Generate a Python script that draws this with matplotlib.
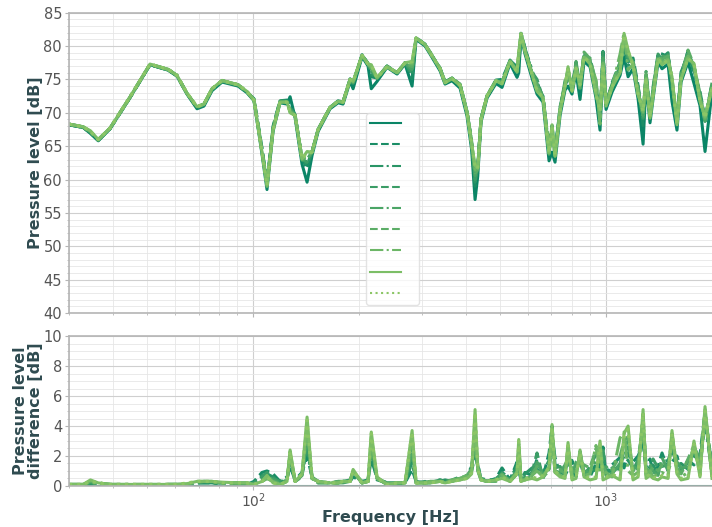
import numpy as np
import matplotlib
matplotlib.use("Agg")
from matplotlib import pyplot as plt
from matplotlib.ticker import MultipleLocator, LogLocator, NullFormatter

# frequency grid [Hz] and reference pressure level [dB] (first configuration)
freq = [30.0, 32.9, 34.5, 36.3, 39.2, 44.7, 50.9, 57.3, 60.7, 64.8,
        69.2, 72.4, 76.3, 81.5, 90.5, 95.9, 100.4, 105.8, 109.3, 113.7,
        119.0, 124.6, 127.1, 131.3, 137.4, 142.0, 146.7, 152.6, 165.0, 173.9,
        179.6, 188.1, 191.8, 203.4, 211.5, 216.0, 224.3, 239.4, 255.6, 269.3,
        282.0, 289.4, 306.9, 317.1, 338.4, 349.7, 366.0, 385.7, 403.7, 416.0,
        425.5, 433.0, 442.3, 460.0, 487.9, 507.4, 534.6, 559.7, 566.0, 574.4,
        589.7, 617.2, 637.7, 663.3, 689.8, 703.5, 717.4, 741.3, 765.6, 780.9,
        801.5, 822.8, 844.6, 866.9, 901.5, 937.6, 962.4, 981.3, 1001, 1041,
        1097, 1126, 1156, 1194, 1234, 1275, 1300, 1334, 1361, 1406,
        1443, 1501, 1540, 1591, 1634, 1710, 1778, 1849, 1911, 2000]

level_ref = [68.2, 67.8, 66.9, 65.8, 67.6, 72.3, 77.2, 76.4, 75.5, 72.8,
             70.6, 71.0, 73.3, 74.6, 74.0, 73.0, 71.8, 63.8, 58.5, 67.2,
             71.5, 71.3, 72.4, 69.3, 62.3, 59.6, 63.6, 67.2, 70.6, 71.5,
             71.3, 74.7, 73.6, 78.4, 77.0, 73.6, 74.7, 76.8, 75.8, 77.3,
             74.0, 81.0, 80.0, 78.8, 76.3, 74.3, 74.8, 73.7, 69.5, 64.5,
             57.0, 60.5, 68.6, 72.2, 74.4, 73.8, 77.4, 75.3, 76.0, 81.5,
             78.8, 75.2, 72.8, 71.6, 62.8, 64.1, 62.6, 69.6, 73.4, 74.0,
             72.8, 76.1, 72.0, 77.7, 76.9, 72.2, 67.4, 76.6, 70.5, 73.1,
             75.6, 78.4, 75.4, 76.6, 72.1, 65.3, 74.6, 68.5, 72.1, 77.6,
             76.6, 77.3, 71.7, 67.4, 74.6, 77.6, 74.4, 71.1, 64.2, 73.1]

# level difference of each further configuration to the reference [dB]
diff_1 = [0.0, 0.0, 0.1, 0.1, 0.0, 0.0, 0.0, 0.0, 0.0, 0.1, 0.2, 0.2, 0.2, 0.2, 0.1, 0.1, 0.3,
          0.9, 1.0, 0.8, 0.3, 0.6, -1.3, 0.4, 0.9, 2.0, 0.6, 0.3, 0.2, 0.2, 0.3, 0.3, 0.6,
          0.3, 0.4, 1.8, 0.5, 0.2, 0.1, 0.2, 1.1, 0.3, 0.2, 0.2, 0.4, 0.3, 0.4, 0.5, 0.6, 1.0,
          2.0, 1.5, 0.4, 0.3, 0.5, 1.2, 0.4, 1.6, 1.0, 0.4, 0.9, 0.7, 1.8, 0.6, 2.2, 4.0, 1.4,
          1.0, 0.7, 1.1, 1.7, 0.6, 2.3, 0.8, 0.6, 1.5, 1.2, 2.6, 0.7, 1.4, 1.9, 1.2, 2.2, 1.6,
          2.0, 2.8, 1.3, 1.8, 0.9, 1.3, 2.2, 1.1, 1.6, 2.0, 1.0, 1.7, 1.4, 2.1, 4.9, 1.2]
diff_2 = [0.0, 0.0, 0.1, 0.1, 0.0, 0.0, 0.0, 0.0, 0.1, 0.1, 0.2, 0.2, 0.2, 0.1, 0.1, 0.1, 0.2,
          0.7, 0.8, 0.6, 0.2, 0.5, -1.6, 0.3, 0.7, 2.6, 0.5, 0.3, 0.2, 0.3, 0.3, 0.4, 0.8,
          0.2, 0.3, 2.2, 0.4, 0.2, 0.2, 0.2, 1.6, 0.3, 0.2, 0.3, 0.3, 0.4, 0.3, 0.5, 0.7, 1.3,
          2.6, 1.2, 0.5, 0.4, 0.4, 0.9, 0.5, 1.3, 1.6, 0.5, 0.8, 1.2, 1.1, 0.9, 1.7, 3.3, 1.9,
          0.8, 1.1, 1.6, 1.2, 0.9, 1.8, 1.3, 0.9, 1.1, 1.9, 2.0, 1.1, 0.9, 1.4, 2.0, 1.7, 1.2,
          1.5, 3.6, 0.8, 1.3, 1.4, 0.8, 1.6, 1.7, 2.4, 1.4, 1.5, 1.1, 2.0, 1.6, 4.2, 0.9]
diff_3 = [0.1, 0.0, 0.2, 0.1, 0.1, 0.0, 0.0, 0.1, 0.1, 0.1, 0.2, 0.3, 0.2, 0.2, 0.2, 0.1, 0.2,
          0.6, 0.9, 0.5, 0.3, 0.4, -1.8, 0.4, 0.8, 3.0, 0.5, 0.2, 0.2, 0.2, 0.3, 0.4, 0.9,
          0.3, 0.3, 2.6, 0.5, 0.1, 0.2, 0.2, 2.0, 0.2, 0.3, 0.2, 0.4, 0.3, 0.4, 0.6, 0.6, 1.2,
          3.0, 1.4, 0.4, 0.3, 0.5, 0.8, 0.3, 1.1, 2.0, 0.4, 0.6, 0.9, 2.2, 0.5, 1.4, 3.6, 1.2,
          1.3, 0.8, 2.1, 0.9, 1.2, 1.6, 0.7, 1.3, 2.1, 1.6, 2.5, 0.8, 1.2, 1.1, 2.4, 2.6, 0.9,
          1.8, 3.9, 1.1, 1.0, 1.8, 1.2, 1.3, 1.4, 2.8, 1.1, 0.9, 1.6, 2.3, 1.2, 4.5, 1.0]
diff_4 = [0.1, 0.1, 0.2, 0.1, 0.1, 0.1, 0.0, 0.1, 0.1, 0.1, 0.2, 0.3, 0.3, 0.2, 0.2, 0.2, 0.1,
          0.4, 0.6, 0.4, 0.2, 0.4, -2.0, 0.3, 0.6, 3.4, 0.6, 0.3, 0.2, 0.2, 0.2, 0.3, 0.9,
          0.2, 0.3, 2.9, 0.5, 0.2, 0.2, 0.2, 2.5, 0.2, 0.2, 0.3, 0.3, 0.3, 0.4, 0.4, 0.6, 0.9,
          3.6, 1.1, 0.5, 0.3, 0.4, 0.7, 0.4, 1.0, 2.4, 0.3, 0.5, 0.6, 1.6, 0.8, 1.1, 3.4, 1.0,
          0.9, 1.4, 1.8, 0.7, 1.6, 2.0, 1.0, 0.9, 1.7, 2.4, 1.6, 1.3, 0.8, 1.5, 2.7, 3.0, 1.3,
          1.1, 4.2, 1.6, 1.4, 1.0, 0.7, 1.9, 1.0, 3.1, 1.6, 1.2, 1.3, 2.6, 1.8, 4.6, 1.4]
diff_5 = [0.1, 0.1, 0.3, 0.2, 0.1, 0.1, 0.1, 0.1, 0.1, 0.1, 0.3, 0.3, 0.3, 0.2, 0.2, 0.1, 0.1,
          0.3, 0.5, 0.3, 0.1, 0.3, -2.1, 0.3, 0.7, 3.8, 0.5, 0.2, 0.2, 0.3, 0.3, 0.3, 1.0,
          0.2, 0.3, 3.1, 0.5, 0.1, 0.2, 0.2, 2.9, 0.2, 0.2, 0.2, 0.3, 0.3, 0.3, 0.5, 0.7, 1.1,
          4.0, 1.0, 0.4, 0.3, 0.3, 0.8, 0.3, 0.8, 2.6, 0.4, 0.4, 0.8, 1.3, 0.6, 1.0, 3.0, 0.9,
          1.1, 0.8, 2.4, 1.0, 0.9, 1.5, 1.4, 1.2, 2.5, 1.8, 1.3, 0.9, 1.1, 2.0, 3.0, 3.3, 1.0,
          1.4, 4.5, 1.2, 0.9, 1.3, 1.0, 1.4, 1.2, 3.3, 1.3, 0.8, 1.8, 2.7, 1.4, 4.9, 0.8]
diff_6 = [0.1, 0.1, 0.3, 0.2, 0.1, 0.1, 0.1, 0.1, 0.1, 0.1, 0.3, 0.3, 0.3, 0.2, 0.2, 0.2, 0.1,
          0.3, 0.5, 0.3, 0.1, 0.3, -2.3, 0.3, 0.8, 4.1, 0.5, 0.3, 0.2, 0.2, 0.3, 0.3, 1.0,
          0.2, 0.3, 3.3, 0.5, 0.1, 0.2, 0.2, 3.3, 0.2, 0.2, 0.3, 0.3, 0.2, 0.4, 0.5, 0.7, 1.0,
          4.5, 1.1, 0.4, 0.3, 0.4, 0.7, 0.3, 0.8, 2.8, 0.4, 0.4, 0.7, 1.0, 0.6, 1.2, 3.7, 0.9,
          0.7, 0.6, 2.6, 0.6, 0.8, 2.1, 0.7, 0.8, 2.7, 0.9, 0.8, 0.9, 0.6, 3.2, 3.6, 1.0, 0.7,
          0.9, 4.8, 0.7, 1.0, 0.6, 0.8, 0.9, 0.7, 3.5, 1.0, 0.6, 0.9, 2.8, 0.8, 5.1, 0.6]
diff_7 = [0.1, 0.1, 0.4, 0.2, 0.1, 0.1, 0.1, 0.1, 0.1, 0.15, 0.3, 0.3, 0.3, 0.25, 0.2, 0.2, 0.1,
          0.3, 0.7, 0.2, 0.1, 0.3, -2.4, 0.3, 0.8, 4.6, 0.5, 0.3, 0.2, 0.2, 0.3, 0.3, 1.1,
          0.2, 0.3, 3.6, 0.6, 0.1, 0.2, 0.2, 3.7, 0.2, 0.2, 0.2, 0.3, 0.2, 0.3, 0.4, 0.5, 0.8,
          5.1, 1.2, 0.4, 0.3, 0.4, 0.5, 0.3, 0.9, 3.1, 0.3, 0.4, 0.5, 0.4, 0.6, 1.3, 4.1, 0.9,
          0.6, 0.5, 2.9, 0.4, 0.5, 2.4, 0.6, 0.4, 0.5, 3.0, 0.4, 0.5, 0.7, 0.4, 3.5, 4.0, 0.4,
          0.6, 5.1, 0.5, 0.7, 0.5, 0.4, 0.6, 0.5, 3.7, 0.8, 0.4, 0.5, 3.0, 0.6, 5.3, 0.5]
diff_8 = [0.1, 0.1, 0.3, 0.2, 0.1, 0.1, 0.1, 0.1, 0.1, 0.2, 0.3, 0.3, 0.3, 0.2, 0.2, 0.2, 0.1,
          0.3, 0.6, 0.2, 0.1, 0.3, -2.3, 0.3, 0.8, 4.4, 0.5, 0.3, 0.2, 0.2, 0.3, 0.3, 1.0,
          0.2, 0.3, 3.5, 0.5, 0.1, 0.2, 0.2, 3.6, 0.2, 0.2, 0.2, 0.3, 0.2, 0.3, 0.4, 0.5, 0.9,
          4.9, 1.1, 0.4, 0.3, 0.4, 0.6, 0.3, 0.8, 3.0, 0.3, 0.5, 0.6, 0.5, 0.7, 1.2, 3.9, 1.0,
          0.7, 0.6, 2.7, 0.5, 0.6, 2.2, 0.7, 0.5, 0.6, 2.8, 0.5, 0.6, 0.8, 0.5, 3.3, 3.8, 0.5,
          0.7, 4.9, 0.6, 0.8, 0.6, 0.5, 0.7, 0.6, 3.5, 0.9, 0.5, 0.6, 2.8, 0.7, 5.0, 0.6]

diffs = [np.zeros(len(freq)), diff_1, diff_2, diff_3, diff_4, diff_5, diff_6, diff_7, diff_8]
styles = ["-", "--", "-.", "--", "-.", "--", "-.", "-", ":"]
colors = plt.cm.summer(np.linspace(0.04, 0.55, len(diffs)))

label_color = "#2f4b50"
tick_color = "#555555"
spine_color = "#b5b5b5"

fig = plt.figure(figsize=(7.12, 5.27), dpi=100)
ax1 = fig.add_axes([0.097, 0.406, 0.903, 0.570])
ax2 = fig.add_axes([0.097, 0.078, 0.903, 0.284])

f = np.array(freq)
ref = np.array(level_ref)
handles = []
for d, ls, c in zip(diffs, styles, colors):
    d = np.array(d)
    (h,) = ax1.plot(f, ref + d, ls=ls, color=c, lw=2.2)
    ax2.plot(f, np.abs(d), ls=ls, color=c, lw=2.2)
    handles.append(h)

for ax in (ax1, ax2):
    ax.set_xscale("log")
    ax.set_xlim(30, 2000)
    ax.xaxis.set_major_locator(LogLocator(base=10))
    ax.xaxis.set_minor_locator(LogLocator(base=10, subs=np.arange(2, 10)))
    ax.xaxis.set_minor_formatter(NullFormatter())
    ax.grid(which="major", color="#cfcfcf", lw=0.8)
    ax.grid(which="minor", color="#e6e6e6", lw=0.6)
    ax.set_axisbelow(True)
    for side in ("top", "left", "bottom"):
        ax.spines[side].set_color(spine_color)
        ax.spines[side].set_linewidth(1.2)
    ax.spines["right"].set_visible(False)
    ax.tick_params(which="both", colors=spine_color, labelcolor=tick_color,
                   labelsize=10.5, direction="out", pad=2)
    ax.tick_params(which="major", length=3)
    ax.tick_params(which="minor", length=1.5)
ax2.tick_params(axis="x", which="major", pad=1, labelsize=10)

ax1.set_ylim(40, 85)
ax1.yaxis.set_major_locator(MultipleLocator(5))
ax1.yaxis.set_minor_locator(MultipleLocator(1))
ax1.set_xticklabels([])
ax1.set_ylabel("Pressure level [dB]", fontsize=11.5, fontweight="bold", color=label_color)

ax2.set_ylim(0, 10)
ax2.yaxis.set_major_locator(MultipleLocator(2))
ax2.yaxis.set_minor_locator(MultipleLocator(0.5))
ax2.set_ylabel("Pressure level\ndifference [dB]", fontsize=11.5, fontweight="bold",
               color=label_color, linespacing=1.0)
ax2.set_xlabel("Frequency [Hz]", fontsize=11.5, fontweight="bold", color=label_color,
               labelpad=0)

ax1.yaxis.set_label_coords(-0.040, 0.5)
ax2.yaxis.set_label_coords(-0.040, 0.5)

leg = ax1.legend(handles, [""] * len(handles), loc="lower left",
                 bbox_to_anchor=(0.462, 0.027), handlelength=2.2, handletextpad=1.0,
                 labelspacing=0.52, borderpad=0.3, borderaxespad=0.0,
                 fontsize=10, fancybox=True)
leg.get_frame().set_edgecolor("#dddddd")
leg.get_frame().set_linewidth(1.0)
for h in leg.legend_handles:
    h.set_linewidth(1.5)

plt.savefig("out.png", dpi=100)
